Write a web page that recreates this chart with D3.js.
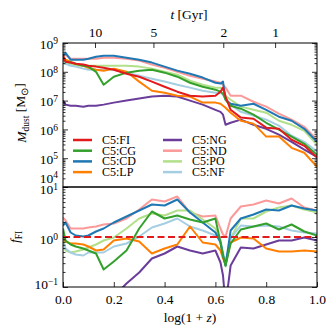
<!DOCTYPE html>
<html>
<head>
<meta charset="utf-8">
<title>Dust mass history</title>
<script src="https://d3js.org/d3.v7.min.js"></script>
<style>
body { margin: 0; background: #fff; }
svg { font-family: "Liberation Serif", "Times New Roman", serif; }
</style>
</head>
<body>
<div id="chart"></div>
<script>
// log(1+z) sample points shared by every curve
var logz = [0, 0.01, 0.03, 0.05, 0.08, 0.1, 0.13, 0.16, 0.2, 0.25, 0.3, 0.35, 0.4, 0.45, 0.5,
            0.55, 0.6, 0.62, 0.63, 0.64, 0.66, 0.7, 0.75, 0.8, 0.85, 0.9, 0.95, 1.0];

// top panel: log10 of M_dust [Msun]
var mFI = [8.59,8.35,8.32,8.28,8.25,8.21,8.18,8.14,8.07,7.93,7.83,7.66,7.48,7.31,7.17,7.14,7.17,7.31,7.45,7.14,6.68,6.41,6.37,6.06,6.02,5.64,5.43,5.02];
var mCG = [8.42,8.35,8.32,8.28,8.21,8.18,8.00,7.55,7.83,7.97,8.04,8.07,7.97,7.83,7.62,7.48,7.38,7.31,7.24,7.03,6.82,6.72,6.51,6.23,5.99,5.75,5.50,5.12];
var mCD = [8.56,8.66,8.42,8.42,8.42,8.45,8.52,8.56,8.56,8.49,8.42,8.32,8.18,8.04,7.93,7.80,7.62,7.59,7.66,7.03,6.89,6.82,6.89,6.68,6.44,6.30,6.02,5.57];
var mLP = [8.52,8.42,8.35,8.28,8.21,8.14,8.07,8.04,8.11,8.00,7.66,7.34,7.27,7.17,7.14,6.93,6.93,6.89,6.82,6.75,6.58,6.30,6.20,5.75,5.75,5.36,5.19,4.70];
var mNG = [7.00,6.86,6.82,6.82,6.79,6.82,6.82,6.86,6.93,7.00,7.07,7.14,7.17,7.14,7.00,6.86,6.68,6.61,6.51,6.16,6.23,6.34,6.16,6.02,5.82,5.57,5.30,5.05];
var mND = [8.66,8.59,8.45,8.45,8.45,8.45,8.45,8.49,8.49,8.45,8.39,8.25,8.14,8.00,7.86,7.76,7.66,7.62,7.55,7.45,7.17,7.17,6.96,6.79,6.55,6.34,6.09,5.64];
var mPO = [8.32,8.28,8.25,8.21,8.21,8.21,8.21,8.21,8.21,8.21,8.18,8.11,8.00,7.90,7.69,7.55,7.45,7.45,7.38,7.17,7.03,6.79,6.68,6.58,6.30,6.16,5.95,5.47];
var mNF = [8.35,8.28,8.21,8.18,8.11,8.07,8.07,8.07,8.07,7.97,7.86,7.76,7.66,7.55,7.45,7.34,7.27,7.27,7.20,7.07,6.86,6.61,6.48,6.34,6.13,5.78,5.57,5.23];

// bottom panel: log10 of f_FI (dust mass relative to C5:FI)
var fCG = [0.17,-0.07,-0.15,-0.19,-0.23,-0.27,-0.33,-0.65,-0.49,-0.27,0.17,0.51,0.37,0.43,0.35,0.29,0.37,-0.11,-0.37,-0.57,-0.13,0.15,0.21,0.27,0.15,0.25,0.11,0.03];
var fCD = [0.23,0.29,0.09,0.03,0.01,0.03,0.11,0.17,0.29,0.41,0.53,0.65,0.63,0.75,0.49,0.29,0.09,-0.11,-0.37,-0.57,0.13,0.37,0.45,0.55,0.53,0.63,0.57,0.53];
var fLP = [0.03,-0.09,-0.13,-0.13,-0.15,-0.19,-0.27,-0.25,-0.07,-0.03,-0.09,-0.33,-0.23,-0.15,0.21,-0.11,-0.15,-0.27,-0.43,-0.53,-0.11,-0.01,-0.03,-0.23,-0.29,-0.29,-0.27,-0.29];
var fNG = [-1.63,-1.37,-1.43,-1.43,-1.47,-1.43,-1.37,-1.31,-1.19,-0.93,-0.71,-0.43,-0.33,-0.19,-0.27,-0.33,-0.27,-0.51,-0.77,-1.37,-0.57,-0.21,-0.23,-0.15,-0.07,-0.07,-0.01,-0.07];
var fND = [0.39,0.33,0.17,0.17,0.17,0.19,0.21,0.25,0.27,0.37,0.55,0.75,0.71,0.81,0.49,0.41,0.43,0.17,0.05,0.01,0.37,0.61,0.65,0.73,0.67,0.77,0.59,0.53];
var fPO = [-0.03,-0.27,-0.31,-0.29,-0.25,-0.21,-0.15,-0.07,-0.01,0.17,0.37,0.47,0.43,0.53,0.53,0.35,0.17,-0.07,-0.37,-0.59,-0.03,0.37,0.37,0.51,0.59,0.63,0.55,0.49];
var fNF = [-0.11,-0.23,-0.31,-0.35,-0.37,-0.31,-0.31,-0.31,-0.19,-0.13,0.01,0.19,0.27,0.37,0.21,0.13,0.03,-0.07,-0.31,-0.51,-0.03,0.23,0.21,0.23,0.21,0.13,0.09,0.07];

var names  = ["C5:FI", "C5:CG", "C5:CD", "C5:LP", "C5:NG", "C5:ND", "C5:PO", "C5:NF"];
var colors = ["#e31a1c", "#33a02c", "#1f78b4", "#ff7f00", "#6a3d9a", "#fb9a99", "#b2df8a", "#a6cee3"];
var mdust  = [mFI, mCG, mCD, mLP, mNG, mND, mPO, mNF];
var ratio  = [null, fCG, fCD, fLP, fNG, fND, fPO, fNF];
var drawOrder = [5, 6, 7, 4, 3, 2, 1, 0];

// tick labels
var xTicks = [0, 0.2, 0.4, 0.6, 0.8, 1.0];
var tTickLabels = ["10", "5", "2", "1"];       // cosmic time [Gyr]
var tTickLogz   = [0.126, 0.356, 0.631, 0.835]; // where they sit in log(1+z)

// layout
var W = 336, H = 336;
var left = 63, right = 317, top1 = 43, mid = 187, bot = 287;

var svg = d3.select("#chart").append("svg")
    .attr("width", W).attr("height", H);

var x = d3.scaleLinear().domain([0, 1]).range([left, right]);
var yTop = d3.scaleLog().domain([1e4, 1e9]).range([mid, top1]);
var yBot = d3.scaleLog().domain([0.1, 10]).range([bot, mid]);

// clip regions for both panels
var defs = svg.append("defs");
defs.append("clipPath").attr("id", "clipTop").append("rect")
    .attr("x", left).attr("y", top1).attr("width", right - left).attr("height", mid - top1);
defs.append("clipPath").attr("id", "clipBot").append("rect")
    .attr("x", left).attr("y", mid).attr("width", right - left).attr("height", bot - mid);

// top panel curves
var gTop = svg.append("g").attr("clip-path", "url(#clipTop)");
drawOrder.forEach(function(k) {
  var line = d3.line()
    .x(function(d, i) { return x(logz[i]); })
    .y(function(d) { return yTop(Math.pow(10, d)); });
  gTop.append("path")
    .datum(mdust[k])
    .attr("d", line)
    .attr("fill", "none")
    .attr("stroke", colors[k])
    .attr("stroke-width", 2)
    .attr("stroke-linejoin", "round");
});

// bottom panel curves
var gBot = svg.append("g").attr("clip-path", "url(#clipBot)");
drawOrder.forEach(function(k) {
  if (k === 0) return;
  var line = d3.line()
    .x(function(d, i) { return x(logz[i]); })
    .y(function(d) { return yBot(Math.pow(10, d)); });
  gBot.append("path")
    .datum(ratio[k])
    .attr("d", line)
    .attr("fill", "none")
    .attr("stroke", colors[k])
    .attr("stroke-width", 2)
    .attr("stroke-linejoin", "round");
});
// reference: FI relative to itself
gBot.append("line")
  .attr("x1", x(0)).attr("x2", x(1))
  .attr("y1", yBot(1)).attr("y2", yBot(1))
  .attr("stroke", colors[0])
  .attr("stroke-width", 2)
  .attr("stroke-dasharray", "7,3.5");

// log axes on both sides, ticks pointing in
function logAxes(scale) {
  var all = scale.ticks();
  var major = all.filter(function(v) { var l = Math.log10(v); return Math.abs(l - Math.round(l)) < 1e-6; });
  var minor = all.filter(function(v) { return major.indexOf(v) < 0; });
  [[d3.axisLeft, left], [d3.axisRight, right]].forEach(function(p) {
    [[major, 5], [minor, 2.5]].forEach(function(q) {
      var g = svg.append("g")
        .attr("transform", "translate(" + p[1] + ",0)")
        .call(p[0](scale).tickValues(q[0]).tickSize(-q[1]).tickFormat(""));
      g.select(".domain").remove();
      g.selectAll("line").attr("stroke", "#000").attr("stroke-width", 0.8);
    });
  });
  return major;
}

function powLabel(yScale, v, dy) {
  var e = Math.round(Math.log10(v));
  var t = svg.append("text")
    .attr("x", left - 5)
    .attr("y", yScale(v) + dy)
    .attr("text-anchor", "end")
    .attr("font-size", "13.5px")
    .attr("fill", "#000")
    .text("10");
  t.append("tspan")
    .attr("dy", "-0.45em")
    .attr("font-size", "9.5px")
    .text(e < 0 ? "\u2212" + (-e) : e);
}

logAxes(yTop).forEach(function(v) {
  powLabel(yTop, v, v === 1e4 ? -4.5 : 5.5);
});
logAxes(yBot).forEach(function(v) {
  powLabel(yBot, v, v === 0.1 ? 2 : 7);
});

// bottom x axis
var gx = svg.append("g")
  .attr("transform", "translate(0," + bot + ")")
  .call(d3.axisBottom(x).tickValues(xTicks).tickSize(-5).tickPadding(7).tickFormat(d3.format(".1f")));
gx.select(".domain").remove();
gx.selectAll("line").attr("stroke", "#000").attr("stroke-width", 0.8);
gx.selectAll("text").attr("font-size", "13.5px").attr("font-family", "Liberation Serif, serif");

// top axis: cosmic time
var gt = svg.append("g")
  .attr("transform", "translate(0," + top1 + ")")
  .call(d3.axisTop(x).tickValues(tTickLogz).tickSize(-5).tickPadding(6)
    .tickFormat(function(d, i) { return tTickLabels[i]; }));
gt.select(".domain").remove();
gt.selectAll("line").attr("stroke", "#000").attr("stroke-width", 0.8);
gt.selectAll("text").attr("font-size", "13.5px").attr("font-family", "Liberation Serif, serif");

// frames
svg.append("rect").attr("x", left).attr("y", top1).attr("width", right - left).attr("height", mid - top1)
  .attr("fill", "none").attr("stroke", "#000").attr("stroke-width", 1);
svg.append("rect").attr("x", left).attr("y", mid).attr("width", right - left).attr("height", bot - mid)
  .attr("fill", "none").attr("stroke", "#000").attr("stroke-width", 1);

// axis titles
var xt = svg.append("text").attr("x", (left + right) / 2).attr("y", 322)
  .attr("text-anchor", "middle").attr("font-size", "13.5px");
xt.append("tspan").text("log(1 + ");
xt.append("tspan").attr("font-style", "italic").text("z");
xt.append("tspan").text(")");

var tt = svg.append("text").attr("x", 189).attr("y", 19)
  .attr("text-anchor", "middle").attr("font-size", "13.5px");
tt.append("tspan").attr("font-style", "italic").text("t");
tt.append("tspan").text(" [Gyr]");

var yl = svg.append("text")
  .attr("transform", "translate(26,113) rotate(-90)")
  .attr("text-anchor", "middle").attr("font-size", "13.5px");
yl.append("tspan").attr("font-style", "italic").text("M");
yl.append("tspan").attr("font-size", "9.5px").attr("dy", "0.3em").text("dust");
yl.append("tspan").attr("dy", "-0.3em").text(" [M");
yl.append("tspan").attr("font-size", "9.5px").attr("dy", "0.3em").text("\u2299");
yl.append("tspan").attr("dy", "-0.3em").text("]");

var fl = svg.append("text")
  .attr("transform", "translate(19,237) rotate(-90)")
  .attr("text-anchor", "middle").attr("font-size", "13.5px");
fl.append("tspan").attr("font-style", "italic").text("f");
fl.append("tspan").attr("font-size", "9.5px").attr("dy", "0.3em").text("FI");

// legend, two columns of four
names.forEach(function(n, i) {
  var col = Math.floor(i / 4), row = i % 4;
  var lx = col === 0 ? 73 : 163;
  var ly = 140 + row * 10.7;
  svg.append("line")
    .attr("x1", lx).attr("x2", lx + 19)
    .attr("y1", ly).attr("y2", ly)
    .attr("stroke", colors[i]).attr("stroke-width", 2.5);
  svg.append("text")
    .attr("x", lx + 29).attr("y", ly + 4)
    .attr("font-size", "12px")
    .text(n);
});
</script>
</body>
</html>
